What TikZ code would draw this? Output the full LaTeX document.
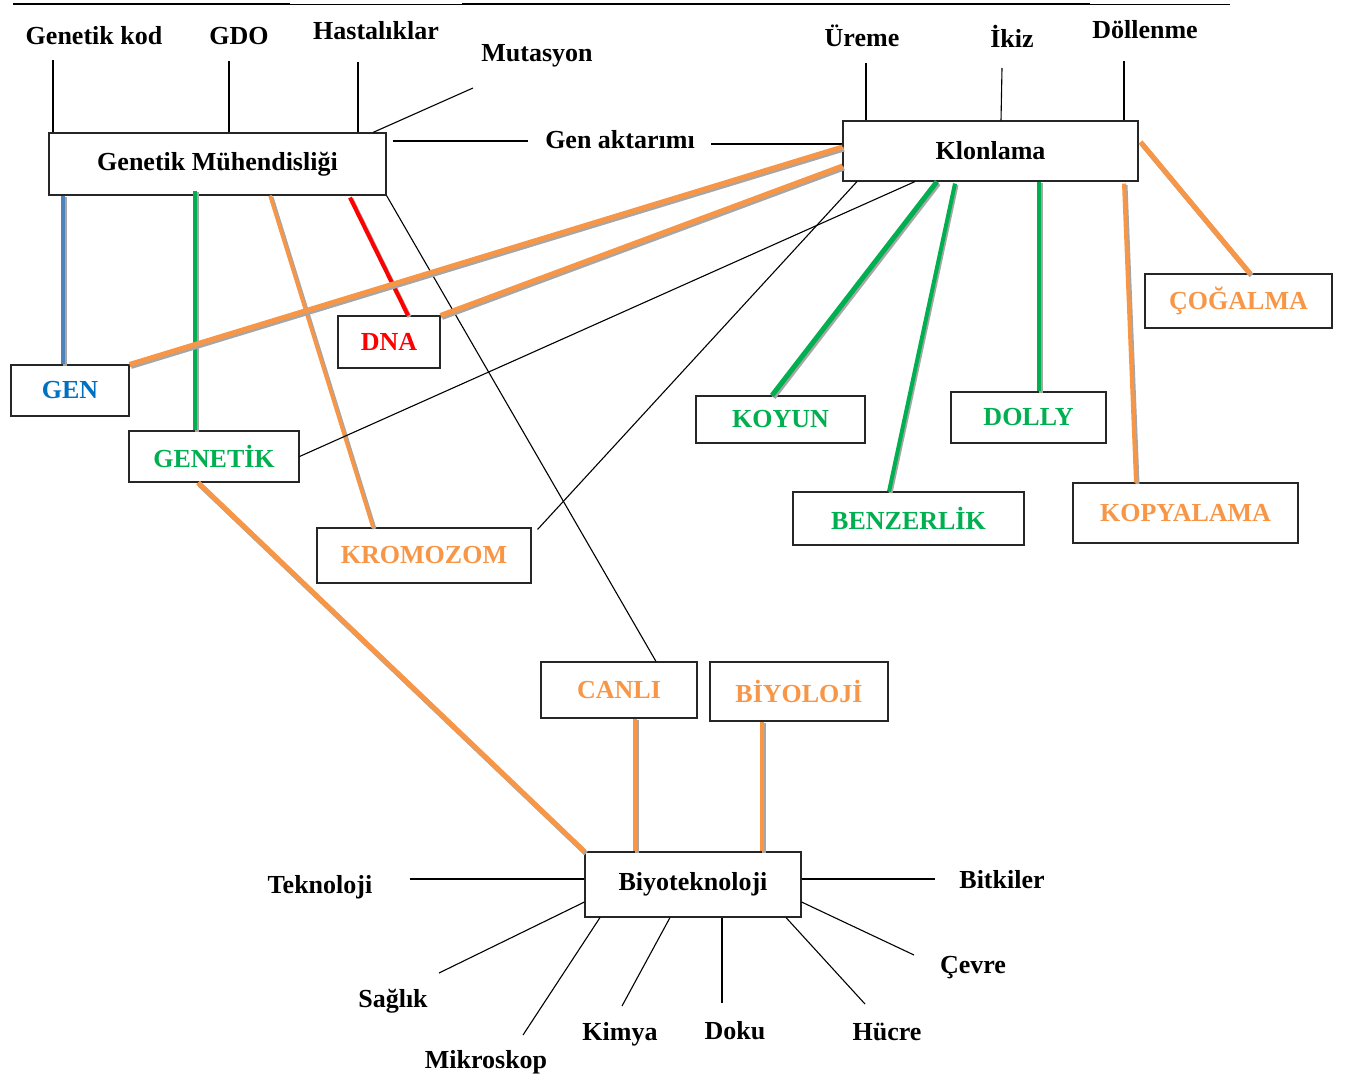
\documentclass[tikz,border=0pt]{standalone}
\usepackage{fontspec}
\setmainfont{Liberation Serif}
\usepackage{tikz}
\usetikzlibrary{calc}

\definecolor{turuncu}{HTML}{F79646}
\definecolor{yesil}{HTML}{00B050}
\definecolor{mavi}{HTML}{0070C0}
\definecolor{maviçizgi}{HTML}{4F81BD}

\begin{document}
\begin{tikzpicture}[x=1pt, y=-1pt,
      kutu/.style={rectangle, draw=black!85, line width=1.1pt, fill=white, inner sep=0pt,
        font=\bfseries\fontsize{26}{30}\selectfont},
      etiket/.style={inner sep=0pt, font=\bfseries\fontsize{26}{30}\selectfont},
      ince/.style={draw=black, line width=1.1pt},
      kalin/.style={line width=4pt, preaction={draw=gray!70, line width=4pt,
        transform canvas={shift={(1.5pt,-1.5pt)}}}},
      kalinca/.style={line width=5pt, preaction={draw=gray!70, line width=5pt,
        transform canvas={shift={(1.5pt,-2pt)}}}}]

      \useasboundingbox (0,0) rectangle (1351,1082);

      % top rule
      \draw[line width=2pt] (13,4) -- (290,4);
      \draw[line width=0.8pt] (290,4) -- (462,4);
      \draw[line width=2pt] (462,4) -- (1090,4);
      \draw[line width=0.8pt] (1090,4) -- (1230,4);

      % main boxes
      \node[kutu, minimum width=337, minimum height=62] (gm) at (217.5,164) {Genetik Mühendisliği};
      \node[kutu, minimum width=295, minimum height=60] (klon) at (990.5,151) {Klonlama};
      \node[kutu, minimum width=216, minimum height=65] (biyo) at (693,884.5) {Biyoteknoloji};

      % word boxes
      \node[kutu, text=mavi, minimum width=118, minimum height=51] (gen) at (70,390.5) {GEN};
      \node[kutu, text=red, minimum width=102, minimum height=52] (dna) at (389,342) {DNA};
      \node[kutu, text=yesil, minimum width=170, minimum height=51] (genetik) at (214,456.5) {GENETİK};
      \node[kutu, text=turuncu, minimum width=214, minimum height=55] (kromozom) at (424,555.5) {KROMOZOM};
      \node[kutu, text=yesil, minimum width=169, minimum height=47] (koyun) at (780.5,419.5) {KOYUN};
      \node[kutu, text=yesil, minimum width=155, minimum height=51] (dolly) at (1028.5,417.5) {DOLLY};
      \node[kutu, text=yesil, minimum width=231, minimum height=53] (benzer) at (908.5,518.5) {BENZERLİK};
      \node[kutu, text=turuncu, minimum width=225, minimum height=60] (kopya) at (1185.5,513) {KOPYALAMA};
      \node[kutu, text=turuncu, minimum width=187, minimum height=54] (cogal) at (1238.5,301) {ÇOĞALMA};
      \node[kutu, text=turuncu, minimum width=156, minimum height=56] (canli) at (619,690) {CANLI};
      \node[kutu, text=turuncu, minimum width=178, minimum height=59] (biyoloji) at (799,691.5) {BİYOLOJİ};

      % free labels
      \node[etiket] (kod) at (94,36) {Genetik kod};
      \node[etiket] (gdo) at (239,36) {GDO};
      \node[etiket] (hasta) at (376,31) {Hastalıklar};
      \node[etiket] (mutasyon) at (537,56) {Mutasyon};
      \node[etiket] (aktarim) at (620,140) {Gen aktarımı};
      \node[etiket] (ureme) at (862,36) {Üreme};
      \node[etiket] (ikiz) at (1012,36) {İkiz};
      \node[etiket] (dollenme) at (1145,30) {Döllenme};
      \node[etiket] (teknoloji) at (320,887) {Teknoloji};
      \node[etiket] (bitkiler) at (1002,880) {Bitkiler};
      \node[etiket] (saglik) at (393,1001) {Sağlık};
      \node[etiket] (mikroskop) at (486,1062) {Mikroskop};
      \node[etiket] (kimya) at (620,1034) {Kimya};
      \node[etiket] (doku) at (735,1031) {Doku};
      \node[etiket] (hucre) at (887,1032) {Hücre};
      \node[etiket] (cevre) at (973,968) {Çevre};

      % free ends of the plain lines
      \coordinate (kodu) at (53,60);
      \coordinate (gdou) at (229,61);
      \coordinate (hastau) at (358,62);
      \coordinate (mutu) at (473,88);
      \coordinate (aktsol) at (528,141);
      \coordinate (aktsag) at (711,144);
      \coordinate (uremeu) at (866,63);
      \coordinate (ikizu) at (1002,68);
      \coordinate (dollu) at (1124,61);
      \coordinate (teku) at (410,879);
      \coordinate (bitu) at (935,879);
      \coordinate (sagu) at (439,973);
      \coordinate (mikru) at (523,1035);
      \coordinate (kimu) at (622,1006);
      \coordinate (dokuu) at (722,1003);
      \coordinate (hucu) at (865,1004);
      \coordinate (cevu) at (914,955);

      % Lines above the boxes
      \draw[ince] ([xshift=-164.5pt]gm.north) -- (kodu);
      \draw[ince] ([xshift=11.5pt]gm.north) -- (gdou);
      \draw[ince] ([xshift=140.5pt]gm.north) -- (hastau);
      \draw[ince] ([xshift=155.5pt]gm.north) -- (mutu);
      \draw[ince] ([xshift=6pt, yshift=23pt]gm.east) -- (aktsol);
      \draw[ince] ([yshift=7pt]klon.west) -- (aktsag);
      \draw[ince] ([xshift=-124.5pt]klon.north) -- (uremeu);
      \draw[ince] ([xshift=10.5pt]klon.north) -- (ikizu);
      \draw[ince] ([xshift=133.5pt]klon.north) -- (dollu);

      % Genetik Muhendisligi
      \draw[kalin, draw=maviçizgi] ([xshift=-154.5pt]gm.south) -- ([xshift=-7pt]gen.north);
      \draw[kalin, draw=yesil] ([xshift=-22.5pt, yshift=5pt]gm.south) -- ([xshift=-19pt]genetik.north);
      \draw[kalin, line width=3.5pt, draw=turuncu] ([xshift=52.5pt]gm.south) -- ([xshift=-51pt]kromozom.north);
      \draw[kalin, draw=red] ([xshift=132.5pt, yshift=-2pt]gm.south) -- ([xshift=19pt]dna.north);
      \draw[ince] (gm.south east) -- ([xshift=37pt]canli.north);

      % Klonlama
      \draw[kalinca, draw=turuncu] ([yshift=4pt]klon.west) -- (gen.north east);
      \draw[kalinca, draw=turuncu] ([yshift=-15pt]klon.west) -- (dna.north east);
      \draw[ince] ([xshift=-75.5pt]klon.south) -- (genetik.east);
      \draw[ince] ([xshift=-133.5pt]klon.south) -- ([xshift=6pt, yshift=-2pt]kromozom.north east);
      \draw[kalinca, draw=yesil] ([xshift=-53.5pt]klon.south) -- ([xshift=-8.5pt]koyun.north);
      \draw[kalin, draw=yesil] ([xshift=-35.5pt, yshift=-2pt]klon.south) -- ([xshift=-19.5pt]benzer.north);
      \draw[kalin, draw=yesil] ([xshift=48.5pt]klon.south) -- ([xshift=10.5pt]dolly.north);
      \draw[kalin, draw=turuncu] ([xshift=133.5pt, yshift=-2pt]klon.south) -- ([xshift=-49.5pt]kopya.north);
      \draw[kalinca, draw=turuncu] ([xshift=2pt, yshift=9pt]klon.east) -- ([xshift=11.5pt]cogal.north);

      % Biyoteknoloji
      \draw[kalinca, draw=turuncu] ([xshift=-16pt]genetik.south) -- (biyo.north west);
      \draw[kalin, draw=turuncu] ([xshift=16pt]canli.south) -- ([xshift=-58pt]biyo.north);
      \draw[kalin, draw=turuncu] ([xshift=-37pt]biyoloji.south) -- ([xshift=69pt]biyo.north);

      \draw[ince] ([yshift=5.5pt]biyo.west) -- (teku);
      \draw[ince] ([yshift=5.5pt]biyo.east) -- (bitu);
      \draw[ince] ([yshift=-17.5pt]biyo.west) -- (sagu);
      \draw[ince] ([yshift=-17.5pt]biyo.east) -- (cevu);
      \foreach \dx/\uc in {-93/mikru, -23/kimu, 29/dokuu, 93/hucu} {
        \draw[ince] ([xshift=\dx pt]biyo.south) -- (\uc);
      }
    \end{tikzpicture}
\end{document}
